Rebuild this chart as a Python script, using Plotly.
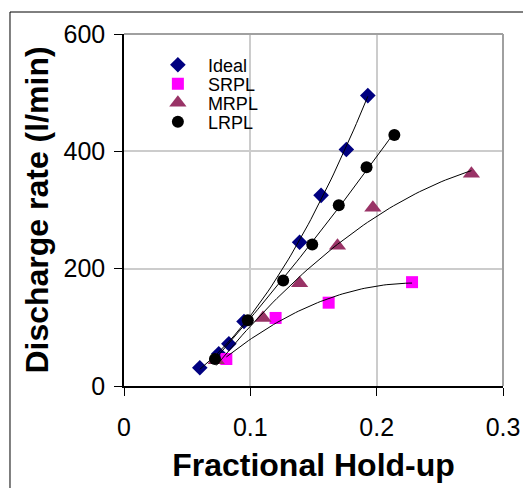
import numpy as np
import plotly.graph_objects as go

# Fractional hold-up vs discharge rate for four pulsed-column configurations
ideal_x = [0.060, 0.075, 0.083, 0.095, 0.139, 0.156, 0.176, 0.193]
ideal_y = [31, 55, 72, 110, 245, 325, 403, 495]

srpl_x = [0.081, 0.120, 0.162, 0.228]
srpl_y = [46, 116, 142, 177]

mrpl_x = [0.073, 0.110, 0.139, 0.169, 0.197, 0.275]
mrpl_y = [44, 116, 175, 239, 304, 362]

lrpl_x = [0.072, 0.098, 0.126, 0.149, 0.170, 0.192, 0.214]
lrpl_y = [46, 112, 180, 241, 308, 373, 428]

x_ticks = [0, 0.1, 0.2, 0.3]
x_tick_text = ["0", "0.1", "0.2", "0.3"]
y_ticks = [0, 200, 400, 600]

FONT = "Liberation Sans, Arial, sans-serif"

series = [
    ("Ideal", ideal_x, ideal_y, "diamond", "#000080", 12, "legend"),
    ("SRPL", srpl_x, srpl_y, "square", "#FF00FF", 12, "legend2"),
    ("MRPL", mrpl_x, mrpl_y, "triangle-up", "#993366", 15, "legend3"),
    ("LRPL", lrpl_x, lrpl_y, "circle", "#000000", 12, "legend4"),
]

fig = go.Figure()

for name, xs, ys, sym, col, size, leg in series:
    fig.add_trace(go.Scatter(
        x=xs, y=ys, mode="markers", name=name, legend=leg,
        marker=dict(symbol=sym, color=col, size=size, line=dict(width=0)),
        cliponaxis=False,
    ))

# second-order polynomial trendlines over each series' range
for name, xs, ys, sym, col, size, leg in series:
    coef = np.polyfit(xs, ys, 2)
    xf = np.linspace(min(xs), max(xs), 60)
    fig.add_trace(go.Scatter(
        x=xf, y=np.polyval(coef, xf), mode="lines", showlegend=False,
        line=dict(color="black", width=1), hoverinfo="skip",
    ))

# one single-entry legend per series, stacked in the upper-left corner
leg_rows = {"legend": 0.912, "legend2": 0.858, "legend3": 0.804, "legend4": 0.750}
for key, yy in leg_rows.items():
    fig.update_layout({key: dict(
        x=0.063, y=yy, xanchor="left", yanchor="middle",
        bgcolor="rgba(0,0,0,0)", itemwidth=50,
    )})

fig.update_xaxes(
    range=[0, 0.3], tickvals=x_ticks, ticktext=x_tick_text,
    automargin=False,
    showgrid=True, gridcolor="#cccccc", gridwidth=1.5,
    showline=True, linecolor="black", linewidth=1.5,
    ticks="outside", ticklen=8, tickcolor="black", tickwidth=1,
    ticklabelstandoff=10,
    tickfont=dict(family=FONT, size=25, color="black"),
    zeroline=False,
    title=dict(text="Fractional Hold-up", standoff=14,
               font=dict(family=FONT, size=32, color="black", weight="bold")),
)
fig.update_yaxes(
    range=[0, 600], tickvals=y_ticks,
    automargin=False,
    showgrid=True, gridcolor="#cccccc", gridwidth=1.5,
    showline=True, linecolor="black", linewidth=1.5,
    ticks="outside", ticklen=8, tickcolor="black", tickwidth=1,
    ticklabelstandoff=4,
    tickfont=dict(family=FONT, size=25, color="black"),
    zeroline=False,
    title=dict(text="Discharge rate (l/min)", standoff=5,
               font=dict(family=FONT, size=32, color="black", weight="bold")),
)

fig.update_layout(
    template="none",
    font=dict(family=FONT, size=18, color="black"),
    width=523, height=488,
    margin=dict(l=124, r=20, t=34, b=102),
    paper_bgcolor="white", plot_bgcolor="white",
    shapes=[
        # grey frame on the top and right of the plot area
        dict(type="line", xref="paper", yref="paper", x0=0, x1=1, y0=1, y1=1,
             line=dict(color="#a0a0a0", width=2)),
        dict(type="line", xref="paper", yref="paper", x0=1, x1=1, y0=0, y1=1,
             line=dict(color="#a0a0a0", width=2)),
        # outer chart border
        dict(type="rect", xref="paper", yref="paper",
             x0=-0.3008, x1=1.12, y0=-0.36, y1=1.0625,
             line=dict(color="black", width=1), layer="below"),
    ],
)

fig.write_html("out.html")
